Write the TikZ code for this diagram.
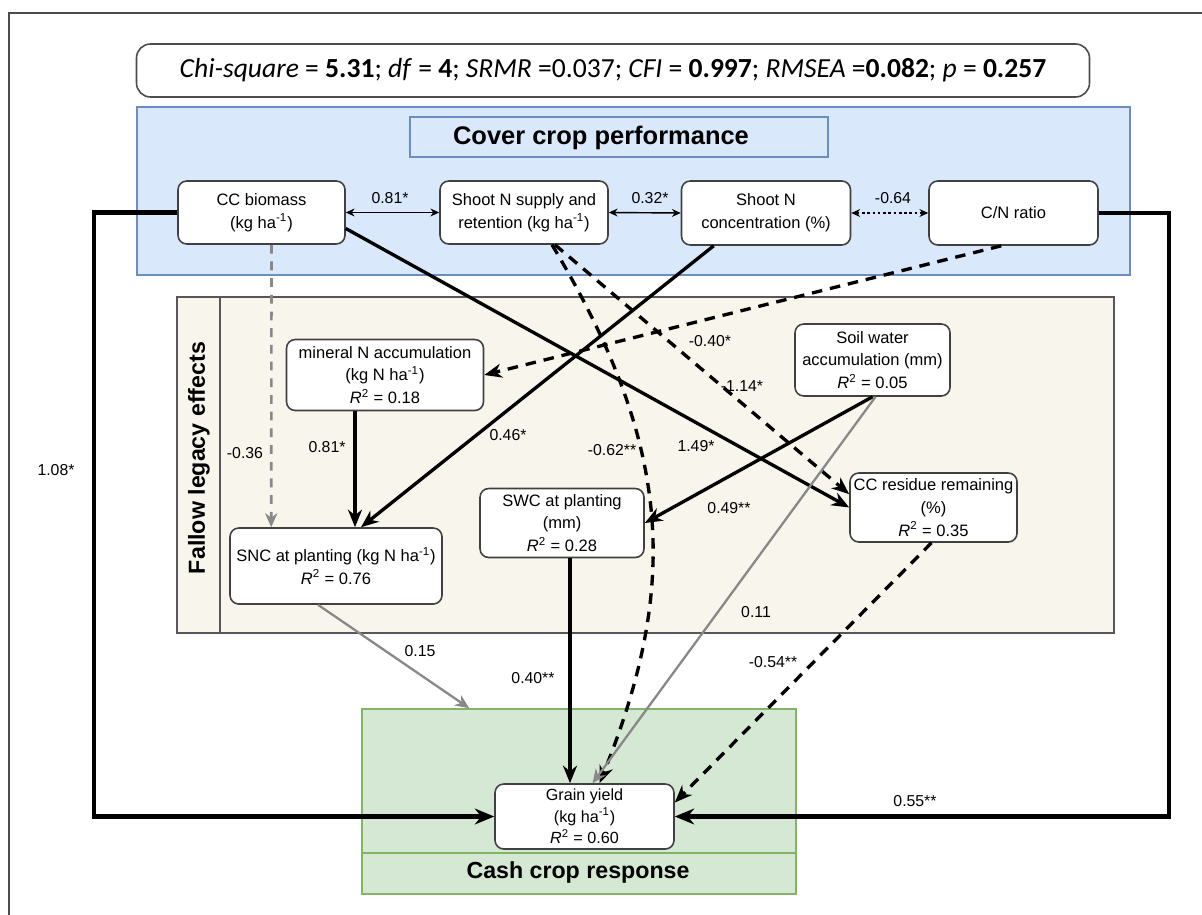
\documentclass[tikz,border=0pt]{standalone}
\usepackage{fontspec}
\setmainfont{Liberation Sans}
\newfontfamily\calibri{Carlito}
\usetikzlibrary{arrows.meta,calc}
\def\pxu{0.02cm}
\definecolor{lblue}{HTML}{DAE8FC}
\definecolor{cblue}{HTML}{6C8EBF}
\definecolor{lgreen}{HTML}{D5E8D4}
\definecolor{cgreen}{HTML}{82B366}
\definecolor{lbeige}{HTML}{F7F5EC}
\definecolor{cbeige}{HTML}{55575A}
\definecolor{lgray}{HTML}{888888}
\tikzset{
  sz/.style 2 args={minimum width=#1*\pxu, minimum height=#2*\pxu},
  nbox/.style={draw=black!75, line width=0.9pt, rounded corners=5pt, fill=white, align=center,
     font=\fontsize{9.4}{13}\selectfont, inner sep=0pt},
  grp/.style={line width=0.9pt, inner sep=0pt},
  lbl/.style={font=\fontsize{9}{10}\selectfont, inner sep=0pt},
  ttl/.style={font=\fontsize{14.5}{16}\selectfont\bfseries, inner sep=0pt},
  ttls/.style={font=\fontsize{13.2}{15}\selectfont\bfseries, inner sep=0pt},
  thk/.style={line width=1.9pt, -{Stealth[length=10pt,width=8pt]}},
  dsh/.style={line width=1.9pt, dash pattern=on 6pt off 4.5pt, -{Stealth[length=10pt,width=8pt]}},
  twoway/.style={line width=0.8pt, {Stealth[length=5pt,width=4.5pt]}-{Stealth[length=5pt,width=4.5pt]}},
  gry/.style={draw=lgray, line width=1.3pt, -{Stealth[length=8pt,width=7pt,fill=lgray]}},
  gdsh/.style={draw=lgray, line width=1.5pt, dash pattern=on 5pt off 4.5pt, -{Stealth[length=8pt,width=7pt,open]}},
  outer/.style={line width=2.4pt, -{Stealth[length=11pt,width=9pt]}},
}
\begin{document}
\begin{tikzpicture}[x=0.02cm,y=-0.02cm]
\useasboundingbox (0,0) rectangle (1202,915);
\fill[white] (0,0) rectangle (1202,915);
% outer frame
\draw[black!70, line width=0.7pt] (9,13) rectangle (1230,940);
% header
\node[draw=black!70, line width=0.9pt, rounded corners=8pt, fill=white, sz={953}{53}, inner sep=0pt,
  font=\calibri\fontsize{15.7}{17}\selectfont] (hdr) at (613,70.5)
  {\textit{Chi-square} = \textbf{5.31}; \textit{df} = \textbf{4}; \textit{SRMR} =0.037; \textit{CFI} = \textbf{0.997}; \textit{RMSEA} =\textbf{0.082}; \textit{p} = \textbf{0.257}};
% groups
\node[grp, draw=cblue, fill=lblue, sz={993}{168}] (ccp) at (633.5,191) {};
\node[grp, draw=cblue, fill=lblue, sz={418}{40}] (ccpt) at (619,137) {};
\node[ttl] (ccptxt) at (601,138) {Cover crop performance};
\node[grp, draw=cbeige, fill=lbeige, sz={937}{336}] (fle) at (645.5,465) {};
\draw[cbeige, line width=0.9pt] ($(fle.north west)+(44,0)$) -- ($(fle.south west)+(44,0)$);
\node[ttls, rotate=90] (fletxt) at (199,458) {Fallow legacy effects};
\node[grp, draw=cgreen, fill=lgreen, sz={434}{185}] (cash) at (579,801.5) {};
\draw[cgreen, line width=0.9pt] ($(cash.south west)+(0,-42)$) -- ($(cash.south east)+(0,-42)$);
\node[ttls] (cashtxt) at (578,872) {Cash crop response};
% nodes
\node[nbox, sz={167}{63}] (ccb) at (261.5,212.5) {CC biomass\\(kg ha\textsuperscript{-1})};
\node[nbox, sz={168}{63}] (sns) at (524,212.5) {Shoot N supply and\\retention (kg ha\textsuperscript{-1})};
\node[nbox, sz={169}{64}] (snc) at (766,213) {Shoot N\\concentration (\%)};
\node[nbox, sz={169}{64}] (cnr) at (1013.5,213) {C/N ratio};
\node[nbox, sz={197}{71}] (mna) at (385,375) {mineral N accumulation\\(kg N ha\textsuperscript{-1})\\\textit{R}\textsuperscript{2} = 0.18};
\node[nbox, sz={212}{76}] (snp) at (336,566) {SNC at planting (kg N ha\textsuperscript{-1})\\\textit{R}\textsuperscript{2} = 0.76};
\node[nbox, sz={164}{69}] (swc) at (562,523) {SWC at planting\\(mm)\\\textit{R}\textsuperscript{2} = 0.28};
\node[nbox, sz={155}{72}] (swa) at (872.5,360) {Soil water\\accumulation (mm)\\\textit{R}\textsuperscript{2} = 0.05};
\node[nbox, sz={167}{69}] (ccr) at (933.5,507.5) {CC residue remaining\\(\%)\\\textit{R}\textsuperscript{2} = 0.35};
\node[nbox, sz={179}{65}, font=\fontsize{9.2}{12.3}\selectfont] (gy) at (584.5,816.5) {Grain yield\\(kg ha\textsuperscript{-1})\\\textit{R}\textsuperscript{2} = 0.60};
% connectors
\draw[twoway] (ccb.east) -- (sns.west);
\draw[twoway] (sns.east) -- (snc.west);
\draw[twoway, dash pattern=on 1.5pt off 1.5pt] (snc.east) -- (cnr.west);
\draw[outer] (ccb.west) -- ++(-83,0) |- (gy.west);
\draw[outer] (cnr.east) -- ++(70,0) |- (gy.east);
\draw[thk] ($(ccb.east)+(0,16)$) -- (ccr.west);
\draw[thk] ($(snc.south west)+(33,0)$) -- ($(snp.north)+(25,0)$);
\draw[thk] ($(mna.south)+(-30,0)$) -- ($(snp.north)+(19,0)$);
\draw[dsh] ($(cnr.south west)+(73,0)$) -- (mna.east);
\draw[dsh] ($(sns.south)+(28,0)$) .. controls (672,445) and (680,584) .. ($(gy.north)+(15,0)$);
\draw[dsh] ($(sns.south)+(31,0)$) -- ($(ccr.north west)+(0,22)$);
\draw[thk] (swa.south) -- (swc.east);
\draw[gry] ($(swa.south)+(3,0)$) -- ($(gy.north)+(8,0)$);
\draw[gdsh] ($(ccb.south)+(10,0)$) -- ($(snp.north west)+(42,0)$);
\draw[gry] ($(snp.south)+(-18,0)$) -- ($(cash.north west)+(108,0)$);
\draw[thk] ($(swc.south)+(8,0)$) -- ($(gy.north)+(-14.5,0)$);
\draw[dsh] ($(ccr.south)+(-2,0)$) -- ($(gy.east)+(0,-14)$);
% labels
\node[lbl] (l1) at (390,198) {0.81*};
\node[lbl] (l2) at (650,198) {0.32*};
\node[lbl] (l3) at (893,198) {-0.64};
\node[lbl] (l4) at (56,470) {1.08*};
\node[lbl] (l5) at (915,801) {0.55**};
\node[lbl] (l6) at (696,446) {1.49*};
\node[lbl] (l7) at (508,435) {0.46*};
\node[lbl] (l8) at (327,447) {0.81*};
\node[lbl] (l9) at (710,341) {-0.40*};
\node[lbl] (l10) at (612,450) {-0.62**};
\node[lbl] (l11) at (742,386) {-1.14*};
\node[lbl] (l12) at (729,508) {0.49**};
\node[lbl] (l13) at (756,612) {0.11};
\node[lbl] (l14) at (245,453) {-0.36};
\node[lbl] (l15) at (420,651) {0.15};
\node[lbl] (l16) at (533,678) {0.40**};
\node[lbl] (l17) at (773,662) {-0.54**};
\end{tikzpicture}
\end{document}
